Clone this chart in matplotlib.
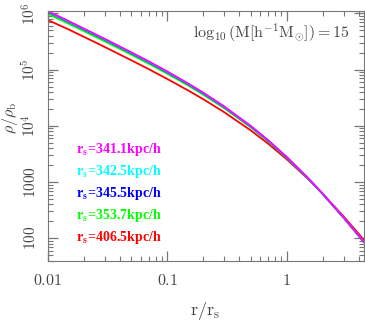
import numpy as np
import matplotlib
matplotlib.use("Agg")
import matplotlib.pyplot as plt

plt.rcParams['mathtext.fontset'] = 'cm'
plt.rcParams['font.family'] = ['DejaVu Serif']

# r / r_s sample points
r_over_rs = [0.01, 0.015, 0.02, 0.03, 0.05, 0.07, 0.1, 0.15, 0.2, 0.3,
             0.5, 0.7, 1.0, 1.5, 2.0, 3.0, 4.0, 4.4]

# rho / rho_b for each profile
rho_341 = [1.098e6, 7.25e5, 5.38e5, 3.52e5, 2.03e5, 1.40e5, 9.26e4, 5.65e4, 3.89e4, 2.21e4,
           9960, 5540, 2800, 1195, 622, 233, 112, 87]
rho_342 = [1.082e6, 7.14e5, 5.30e5, 3.47e5, 2.00e5, 1.38e5, 9.13e4, 5.58e4, 3.85e4, 2.185e4,
           9860, 5490, 2780, 1190, 620, 233, 112, 87]
rho_345 = [1.06e6, 7.0e5, 5.19e5, 3.40e5, 1.96e5, 1.355e5, 8.96e4, 5.48e4, 3.78e4, 2.15e4,
           9720, 5420, 2750, 1180, 617, 232, 112, 87]
rho_353 = [9.83e5, 6.50e5, 4.83e5, 3.17e5, 1.84e5, 1.27e5, 8.45e4, 5.19e4, 3.59e4, 2.06e4,
           9410, 5290, 2700, 1169, 613, 231, 112, 87]
rho_406 = [7.6e5, 5.15e5, 3.83e5, 2.52e5, 1.466e5, 1.017e5, 6.82e4, 4.24e4, 2.976e4, 1.746e4,
           8294, 4807, 2549, 1149, 622, 245, 121, 95]

labels = ['341.1', '342.5', '345.5', '353.7', '406.5']
colors = ['#ff00ff', '#00ffff', '#0000ff', '#00ff00', '#ff0000']
profiles = [rho_341, rho_342, rho_345, rho_353, rho_406]

fig = plt.figure(figsize=(3.65, 3.21), dpi=100)
ax = fig.add_axes([0.1315, 0.188, 0.8644, 0.7788])

# draw red first so magenta ends on top
for rho, c in zip(profiles[::-1], colors[::-1]):
    ax.plot(r_over_rs, rho, color=c, lw=1.3)

ax.set_xscale('log')
ax.set_yscale('log')
ax.set_xlim(0.01, 4.4)
ax.set_ylim(40, 1.12e6)

axis_grey = '#777777'
text_grey = '#444444'
for sp in ax.spines.values():
    sp.set_color(axis_grey)
ax.tick_params(which='both', direction='in', top=True, right=True, color=axis_grey,
               labelcolor=text_grey, labelsize=11.5, pad=8)
ax.tick_params(axis='y', labelsize=11, pad=7)
ax.tick_params(which='major', length=7, width=0.9)
ax.tick_params(which='minor', length=3.5, width=0.8)

ax.set_xticks([0.01, 0.1, 1])
ax.set_xticklabels([r'$0.01$', r'$0.1$', r'$1$'])
ax.set_yticks([1e2, 1e3, 1e4, 1e5, 1e6])
ax.set_yticklabels([r'$100$', r'$1000$', r'$10^4$', r'$10^5$', r'$10^6$'],
                   rotation=90, va='center')

ax.set_xlabel(r'$\mathrm{r/r_s}$', fontsize=13, color=text_grey)
ax.set_ylabel(r'$\rho/\rho_\mathrm{b}$', fontsize=11.5, color=text_grey)
ax.xaxis.set_label_coords(0.498, -0.157)
ax.yaxis.set_label_coords(-0.088, 0.571)

ax.text(0.957, 0.911, r'$\mathrm{\log_{10}(M[h^{-1}M_{\odot}]){=}15}$',
        transform=ax.transAxes, ha='right', va='center', fontsize=11.5, color=text_grey)

ys = [0.443, 0.355, 0.267, 0.179, 0.091]
for lab, c, y in zip(labels, colors, ys):
    ax.text(0.089, y, r'r$_\mathbf{s}$=' + lab + 'kpc/h', transform=ax.transAxes,
            ha='left', va='center', fontsize=10, color=c,
            family='Liberation Serif', fontweight='bold')

fig.savefig('out.png', dpi=100)
